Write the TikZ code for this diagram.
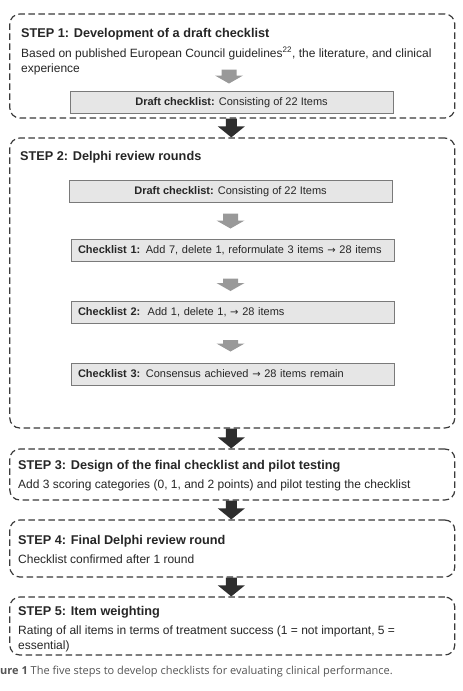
\documentclass[tikz,border=0pt]{standalone}
\usepackage{fontspec}
\setmainfont{Liberation Sans}
\newfontfamily\capfont{Open Sans}
\newfontfamily\arrfont{DejaVu Sans}
\newcommand\rarr{{\arrfont\fontsize{10}{12}\selectfont →}}
\usetikzlibrary{calc}
\definecolor{dashc}{HTML}{3A3A3A}
\definecolor{boxfill}{HTML}{E6E6E6}
\definecolor{boxdraw}{HTML}{7A7A7A}
\definecolor{grayarr}{HTML}{999999}
\definecolor{blackarr}{HTML}{2E2E2E}
\definecolor{captxt}{HTML}{555555}
\definecolor{txt}{HTML}{262626}
\newcommand\blockarrow[6]{%
  \fill[#1] let \p1=(#2), \p2=(#3) in
    (\x1-#4,\y1) -- (\x1+#4,\y1) -- (\x1+#4,\y2+#6) -- (\x1+#5,\y2+#6)
    -- (\x1,\y2) -- (\x1-#5,\y2+#6) -- (\x1-#4,\y2+#6) -- cycle;}
\begin{document}
\begin{tikzpicture}[x=1pt,y=-1pt,
  stepbox/.style={draw=dashc, line width=1.2pt, dash pattern=on 6.5pt off 3.5pt,
    rounded corners=10pt, minimum width=445pt, inner sep=0pt},
  chkbox/.style={draw=boxdraw, fill=boxfill, line width=1pt, minimum width=323pt,
    minimum height=22pt, inner sep=0pt, text height=8.5pt, text depth=2.5pt,
    font=\fontsize{11}{13}\selectfont, text=txt},
  leftbox/.style={chkbox, text width=309pt, align=left, inner xsep=7pt},
  ttl/.style={anchor=base west, inner sep=0pt, font=\bfseries\fontsize{12.7}{15}\selectfont, text=txt},
  body/.style={anchor=base west, inner sep=0pt, font=\fontsize{12}{15}\selectfont, text=txt}]
\useasboundingbox (0,0) rectangle (463,691);
\fill[white] (0,0) rectangle (463,691);

% step boxes
\node[stepbox, minimum height=104pt] (s1) at (232.3,66) {};
\node[stepbox, minimum height=290pt] (s2) at (232.3,283) {};
\node[stepbox, minimum height=51pt] (s3) at (232.3,474.5) {};
\node[stepbox, minimum height=57pt] (s4) at (232.3,548.5) {};
\node[stepbox, minimum height=58pt] (s5) at (232.3,626) {};

% step 1
\node[ttl] (t1) at (21,37) {STEP 1: Development of a draft checklist};
\node[body] (b1a) at (21,57) {Based on published European Council guidelines\textsuperscript{22}, the literature, and clinical};
\node[body] (b1b) at (21,72) {experience};
\node[chkbox] (d0) at (231.5,102) {\textbf{Draft checklist:} Consisting of 22 Items};

% step 2
\node[ttl] (t2) at (20,160) {STEP 2: Delphi review rounds};
\node[chkbox] (d1) at (230.5,191) {\textbf{Draft checklist:} Consisting of 22 Items};
\node[leftbox] (c1) at (232.5,250) {\textbf{Checklist 1:} Add 7, delete 1, reformulate 3 items \rarr{} 28 items};
\node[leftbox] (c2) at (232.5,312.5) {\textbf{Checklist 2:}\ \ Add 1, delete 1, \rarr{} 28 items};
\node[leftbox] (c3) at (232.5,374) {\textbf{Checklist 3:} Consensus achieved \rarr{} 28 items remain};

% step 3
\node[ttl] (t3) at (18,469) {STEP 3: Design of the final checklist and pilot testing};
\node[body] (b3) at (18,488) {Add 3 scoring categories (0, 1, and 2 points) and pilot testing the checklist};

% step 4
\node[ttl] (t4) at (18,544) {STEP 4: Final Delphi review round};
\node[body] (b4) at (18,563) {Checklist confirmed after 1 round};

% step 5
\node[ttl] (t5) at (18,615) {STEP 5: Item weighting};
\node[body] (b5a) at (18,634) {Rating of all items in terms of treatment success (1 = not important, 5 =};
\node[body] (b5b) at (18,649) {essential)};

% caption
\node[anchor=base west, inner sep=0pt, text=captxt, font=\capfont\fontsize{11}{13}\selectfont] (cap) at (0,674)
  {\textbf{ure 1} The five steps to develop checklists for evaluating clinical performance.};

% gray arrows
\blockarrow{grayarr}{$(d0.north)+(-2.5,-21)$}{$(d0.north)+(-2.5,-7)$}{7.5pt}{14pt}{8pt}
\blockarrow{grayarr}{$(d1.south)+(0,11)$}{$(c1.north)+(-2,-10)$}{7.5pt}{14pt}{8pt}
\blockarrow{grayarr}{$(c1.south)+(-2,17)$}{$(c2.north)+(-2,-10)$}{7.5pt}{14pt}{8pt}
\blockarrow{grayarr}{$(c2.south)+(-2,16)$}{$(c3.north)+(-2,-11)$}{7.5pt}{14pt}{8pt}

% black arrows
\blockarrow{blackarr}{$(s1.south)+(-1,0)$}{$(s2.north)+(-1,0)$}{5.5pt}{13.5pt}{11pt}
\blockarrow{blackarr}{$(s2.south)+(-1,0)$}{$(s3.north)+(-1,0)$}{5.5pt}{13.5pt}{11pt}
\blockarrow{blackarr}{$(s3.south)+(-1,0)$}{$(s4.north)+(-1,0)$}{5.5pt}{13.5pt}{11pt}
\blockarrow{blackarr}{$(s4.south)+(-1,0)$}{$(s5.north)+(-1,0)$}{5.5pt}{13.5pt}{11pt}
\end{tikzpicture}
\end{document}
